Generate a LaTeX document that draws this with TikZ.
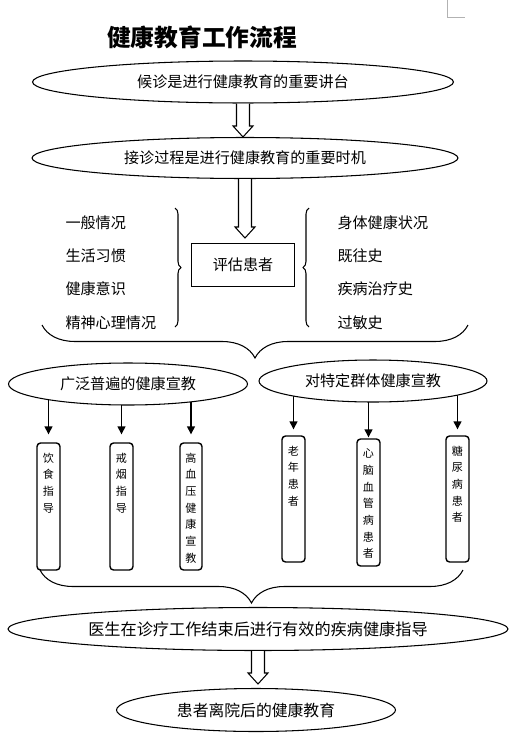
\documentclass[tikz,border=0pt]{standalone}
\usepackage{fontspec}
\setmainfont{Noto Sans CJK SC}
\usepackage{tikz}
\usetikzlibrary{arrows.meta, positioning, calc, shapes, decorations.pathreplacing, backgrounds}

% hollow block arrow: shaft from #1, tip at #2
\newcommand{\bigarrow}[2]{%
  \draw[fill=white, line width=0.6pt] ($(#1)+(-6.5,0)$) -- ($(#2)+(-6.5,-11)$) -- ($(#2)+(-10,-11)$) -- (#2)
    -- ($(#2)+(10,-11)$) -- ($(#2)+(6.5,-11)$) -- ($(#1)+(6.5,0)$);}

\begin{document}
\begin{tikzpicture}[x=0.02cm, y=-0.02cm, line width=0.6pt,
    oval/.style={draw, ellipse, fill=white, inner sep=0pt, font=\fontsize{8.6}{10}\selectfont},
    item/.style={anchor=west, inner sep=0pt, font=\fontsize{8.6}{10}\selectfont},
    vbox/.style={draw, rounded corners=2pt, line width=0.8pt, minimum width=0.46cm, minimum height=2.54cm, inner sep=0pt},
    vtext/.style={anchor=north, inner sep=0pt, yshift=-0.2cm, align=center, font=\fontsize{6.3}{9.5}\selectfont},
    thinarrow/.style={-{Triangle[length=4.5pt, width=4.5pt]}, line width=0.7pt},
    curly/.style={decorate, decoration={brace, amplitude=#1}, line width=0.6pt}]
    \useasboundingbox (0,0) rectangle (512,744);
    \draw[gray!60, line width=0.4pt] (447,0) |- (465,17);

    \node[font=\bfseries\fontsize{13.5}{16}\selectfont, inner sep=0pt] (title) at (202,37) {健康教育工作流程};

    \node[oval, minimum width=8.42cm, minimum height=0.84cm] (houzhen) at (243,82) {候诊是进行健康教育的重要讲台};
    \node[oval, minimum width=8.52cm, minimum height=0.82cm] (jiezhen) at (245,158) {接诊过程是进行健康教育的重要时机};
    \node[draw, minimum width=2.06cm, minimum height=0.86cm, font=\fontsize{8.6}{10}\selectfont] (pinggu) at (243,265) {评估患者};

    % assessment items
    \node[item] (yiban) at (65,223) {一般情况};
    \node[item] (shenghuo) at (65,256) {生活习惯};
    \node[item] (yishi) at (65,289) {健康意识};
    \node[item] (jingshen) at (65,323) {精神心理情况};
    \node[item] (shenti) at (337,223) {身体健康状况};
    \node[item] (jiwang) at (337,256) {既往史};
    \node[item] (zhiliao) at (337,289) {疾病治疗史};
    \node[item] (guomin) at (337,323) {过敏史};

    \draw[curly=0.12cm] (175,208) -- (175,327);
    \draw[curly=0.12cm] (309,327) -- (309,208);
    \draw[curly=0.66cm] (468,325) -- (42,325);

    \node[oval, minimum width=4.78cm, minimum height=0.84cm] (guangfan) at (128,384) {广泛普遍的健康宣教};
    \node[oval, minimum width=4.56cm, minimum height=0.84cm] (teding) at (373,381) {对特定群体健康宣教};

    \node[vbox] (yinshi) at (48.5,506.5) {};
    \node[vtext] (yinshi-t) at (yinshi.north) {饮\\食\\指\\导};
    \node[vbox] (jieyan) at (121.5,506.5) {};
    \node[vtext] (jieyan-t) at (jieyan.north) {戒\\烟\\指\\导};
    \node[vbox, minimum width=0.44cm] (gaoxueya) at (191,506.5) {};
    \node[vtext] (gaoxueya-t) at (gaoxueya.north) {高\\血\\压\\健\\康\\宣\\教};
    \node[vbox, minimum height=2.52cm] (laonian) at (293.5,499) {};
    \node[vtext] (laonian-t) at (laonian.north) {老\\年\\患\\者};
    \node[vbox] (xinnao) at (368.5,502.5) {};
    \node[vtext] (xinnao-t) at (xinnao.north) {心\\脑\\血\\管\\病\\患\\者};
    \node[vbox, minimum height=2.52cm] (tangniao) at (457.5,499) {};
    \node[vtext] (tangniao-t) at (tangniao.north) {糖\\尿\\病\\患\\者};

    \begin{scope}[on background layer]
        \foreach \b in {yinshi, jieyan, gaoxueya}
            \draw[thinarrow, shorten >=0.16cm] (\b.north |- guangfan) -- (\b.north);
        \foreach \b/\s in {laonian/0.12cm, xinnao/0.02cm, tangniao/0.12cm}
            \draw[thinarrow, shorten >=\s] (\b.north |- teding) -- (\b.north);
    \end{scope}

    \draw[curly=0.66cm] (463,570) -- (40,570);

    \node[oval, minimum width=10cm, minimum height=0.86cm, font=\fontsize{9.2}{11}\selectfont] (yisheng) at (258,629) {医生在诊疗工作结束后进行有效的疾病健康指导};
    \node[oval, minimum width=5.58cm, minimum height=0.86cm, font=\fontsize{9}{11}\selectfont] (liyuan) at (256,710) {患者离院后的健康教育};

    % block arrows
    \coordinate (tip1) at (houzhen.south |- jiezhen.north);
    \coordinate (pinggu-in) at ($(pinggu.north)+(0,-5)$);
    \coordinate (tip2) at (jiezhen.south |- pinggu-in);
    \coordinate (liyuan-in) at ($(liyuan.north)+(0,-4)$);
    \coordinate (tip3) at (yisheng.south |- liyuan-in);
    \bigarrow{houzhen.south}{tip1}
    \bigarrow{jiezhen.south}{tip2}
    \bigarrow{yisheng.south}{tip3}
\end{tikzpicture}
\end{document}
